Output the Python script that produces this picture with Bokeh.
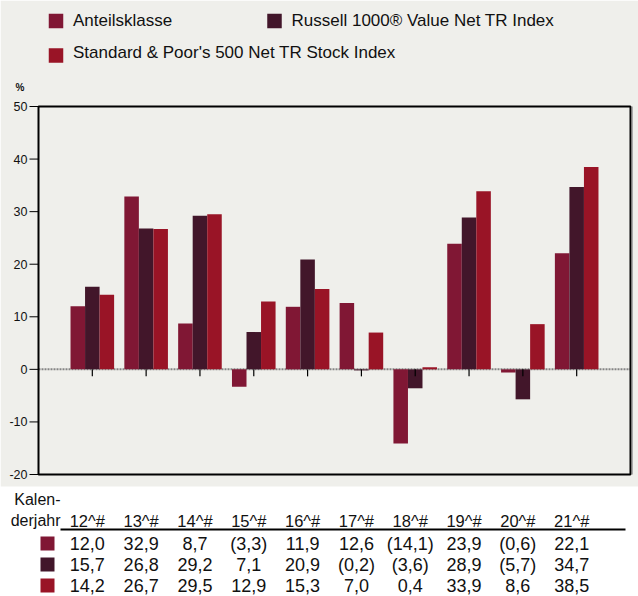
from bokeh.plotting import figure
from bokeh.models import Range1d, ColumnDataSource
from bokeh.transform import dodge
from bokeh.core.properties import value
from bokeh.embed import file_html
from bokeh.resources import INLINE

# ---------------- data ----------------
years = ["12^#", "13^#", "14^#", "15^#", "16^#", "17^#", "18^#", "19^#", "20^#", "21^#"]
series_names = ["Anteilsklasse", "Russell 1000\u00ae Value Net TR Index",
                "Standard & Poor's 500 Net TR Stock Index"]
anteil = [12.0, 32.9, 8.7, -3.3, 11.9, 12.6, -14.1, 23.9, -0.6, 22.1]
russell = [15.7, 26.8, 29.2, 7.1, 20.9, -0.2, -3.6, 28.9, -5.7, 34.7]
sp500 = [14.2, 26.7, 29.5, 12.9, 15.3, 7.0, 0.4, 33.9, 8.6, 38.5]
y_ticks = [-20, -10, 0, 10, 20, 30, 40, 50]
y_min, y_max = -20, 50

colors = ["#801734", "#42162A", "#991426"]
BG = "#EFEFEB"
FONT = value("Liberation Sans")
TXT = "#111111"

def fmt(v):
    s = ("%.1f" % abs(v)).replace(".", ",")
    return "(%s)" % s if v < 0 else s

xs = list(range(1, len(years) + 1))
src = ColumnDataSource(dict(x=xs, year=years, a=anteil, r=russell, s=sp500,
                            ta=[fmt(v) for v in anteil],
                            tr=[fmt(v) for v in russell],
                            ts=[fmt(v) for v in sp500]))
ticks_src = ColumnDataSource(dict(y=y_ticks, label=[str(t) for t in y_ticks]))

# ---------------- layout geometry (pixels) ----------------
W, H = 638, 596
FL, FR, FT, FB = 38, 630, 106, 474       # chart frame edges
GRAY_BOTTOM = 486
ppu = (FR - FL) / 11.0
ppy = (FB - FT) / float(y_max - y_min)
cx_range = Range1d(-FL / ppu, 11 + (W - FR) / ppu)
cy_range = Range1d(y_min - (H - FB) / ppy, y_max + FT / ppy)

p = figure(width=W, height=H, x_range=Range1d(0, W), y_range=Range1d(H, 0),
           x_axis_location=None, y_axis_location=None, min_border=0,
           output_backend="svg", toolbar_location=None)
p.extra_x_ranges = {"cx": cx_range}
p.extra_y_ranges = {"cy": cy_range}
p.grid.visible = False
p.outline_line_color = None
p.background_fill_color = "white"
p.border_fill_color = "white"

# gray panel
p.quad(left=[0], right=[W], top=[0], bottom=[GRAY_BOTTOM], fill_color=BG, line_color=None)

# ---------------- legend ----------------
leg = ColumnDataSource(dict(sx=[55.5, 274, 55.5], sy=[20.5, 20.5, 55],
                            tx=[72.5, 291, 72.5], ty=[20, 20, 52],
                            label=series_names, color=colors))
p.scatter(x="sx", y="sy", marker="square", size=14.5, color="color", line_color=None, source=leg)
p.text(x="tx", y="ty", text="label", source=leg, text_font=FONT,
       text_font_size="17px", text_baseline="middle", text_color=TXT)
p.text(x=[15], y=[87], text=["%"], text_font=FONT, text_font_size="10px",
       text_font_style="bold", text_baseline="middle", text_color=TXT)

# ---------------- chart ----------------
C = dict(x_range_name="cx", y_range_name="cy")

# zero line (dotted, beneath bars)
p.segment(x0=[0], y0=[0], x1=[11], y1=[0], line_color="#858585", line_width=2,
          line_dash="2 1", **C)

bw = 0.27
p.vbar(x=dodge("x", -bw), top="a", width=bw, color=colors[0], line_color=None, source=src, **C)
p.vbar(x=dodge("x", 0), top="r", width=bw, color=colors[1], line_color=None, source=src, **C)
p.vbar(x=dodge("x", bw), top="s", width=bw, color=colors[2], line_color=None, source=src, **C)

# category ticks
p.segment(x0="x", y0=0, x1="x", y1=-7 / ppy, line_color="black", line_width=1.2,
          source=src, **C)

# frame
p.quad(left=[0], right=[11], bottom=[y_min], top=[y_max], fill_color=None,
       line_color="black", line_width=2, **C)
p.segment(x0=[11 + 2 / ppu], y0=[y_max], x1=[11 + 2 / ppu], y1=[y_min],
          line_color="#aaaaaa", line_width=1, **C)

# y axis ticks and labels
p.segment(x0=-9 / ppu, y0="y", x1=0, y1="y", line_color="black", line_width=1,
          source=ticks_src, **C)
p.text(x=-11 / ppu, y="y", text="label", source=ticks_src, text_font=FONT,
       text_font_size="12.5px", text_align="right", text_baseline="middle",
       text_color=TXT, **C)

# ---------------- table ----------------
off = -5 / ppu
row_y = [543, 564, 585]
p.text(x=[60, 60], y=[499, 520], text=["Kalen-", "derjahr"], text_font=FONT,
       text_font_size="16px", text_align="right", text_baseline="middle", text_color=TXT)
p.text(x=dodge("x", off), y=520, text="year", source=src, text_font=FONT,
       text_font_size="16.5px", text_align="center", text_baseline="middle",
       text_color=TXT, x_range_name="cx")
p.segment(x0=[60], y0=[529], x1=[625], y1=[529], line_color="black", line_width=2)
for col, yy, c in zip(["ta", "tr", "ts"], row_y, colors):
    p.text(x=dodge("x", off), y=yy, text=col, source=src, text_font=FONT,
           text_font_size="18px", text_align="center", text_baseline="middle",
           text_color=TXT, x_range_name="cx")
    p.scatter(x=[47], y=[yy], marker="square", size=14, color=c, line_color=None)

open("out.html", "w").write(file_html(p, INLINE))
